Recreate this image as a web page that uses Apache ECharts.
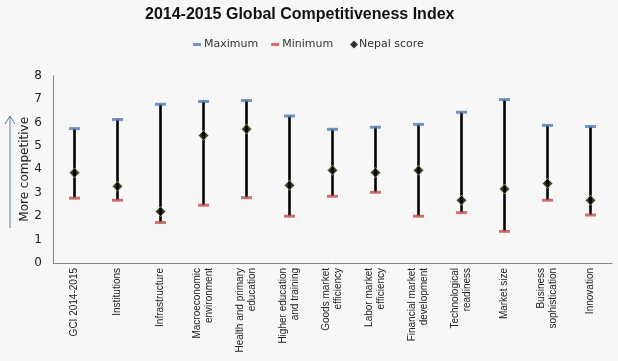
<!DOCTYPE html>
<html><head><meta charset="utf-8">
<script src="https://cdn.jsdelivr.net/npm/echarts@6/dist/echarts.min.js"></script>
<style>html,body{margin:0;padding:0;background:#f7f7f7}#c{width:618px;height:361px}</style>
</head><body><div id="c"></div>
<script>
const categories = ["GCI 2014-2015","Institutions","Infrastructure","Macroeconomic\nenvironment","Health and primary\neducation","Higher education\nand training","Goods market\nefficiency","Labor market\nefficiency","Financial market\ndevelopment","Technological\nreadiness","Market size","Business\nsophistication","Innovation"];
const maximum = [5.74,6.13,6.78,6.90,6.94,6.28,5.71,5.80,5.92,6.44,6.98,5.88,5.83];
const minimum = [2.77,2.68,1.73,2.47,2.79,2.00,2.85,3.02,2.00,2.15,1.35,2.68,2.05];
const nepal   = [3.85,3.28,2.20,5.45,5.72,3.32,3.96,3.86,3.96,2.68,3.16,3.40,2.68];
const yTicks = [0,1,2,3,4,5,6,7,8];

const legendText = {fontFamily:'DejaVu Sans',fontSize:11,color:'#333',padding:[0,0,0,-2]};
const chart = echarts.init(document.getElementById('c'));
chart.setOption({
  backgroundColor:'#f7f7f7',
  animation:false,
  title:{text:'2014-2015 Global Competitiveness Index',left:140,top:2,
    textStyle:{fontFamily:'Liberation Sans, Arial',fontSize:16,fontWeight:'bold',color:'#111'}},
  legend:[
    {top:34,left:188,itemGap:13,itemWidth:8,itemHeight:3,textStyle:legendText,
      data:[{name:'Maximum',icon:'rect'},{name:'Minimum',icon:'rect'}]},
    {top:34,left:345,itemWidth:8,itemHeight:8,textStyle:Object.assign({},legendText,{padding:[0,0,0,-4]}),
      data:[{name:'Nepal score',icon:'diamond',itemStyle:{borderWidth:0}}]}
  ],
  grid:{left:53,right:6,top:75.7,bottom:98,containLabel:false},
  xAxis:{type:'category',data:categories,boundaryGap:true,
    axisLine:{lineStyle:{color:'#888',width:1}},axisTick:{show:false},
    axisLabel:{rotate:90,interval:0,fontFamily:'Liberation Sans, Arial',fontSize:10,color:'#222',lineHeight:12,margin:5}},
  yAxis:{type:'value',min:0,max:8,interval:1,
    name:'More competitive',nameLocation:'middle',nameGap:22,nameRotate:90,nameMoveOverlap:false,
    nameTextStyle:{fontFamily:'DejaVu Sans',fontSize:12,color:'#222'},
    axisLine:{show:true,lineStyle:{color:'#888'}},axisTick:{show:false},splitLine:{show:false},
    axisLabel:{fontFamily:'DejaVu Sans',fontSize:12,color:'#222',margin:11,
      formatter:v=>yTicks.includes(v)?String(v):''}},
  graphic:[{type:'line',shape:{x1:10,y1:228,x2:10,y2:116},style:{stroke:'#5b7fa6',lineWidth:1}},
    {type:'polyline',shape:{points:[[5,124],[10,116],[15,124]]},style:{stroke:'#5b7fa6',lineWidth:1,fill:null}}],
  series:[
    {type:'custom',name:'range',silent:true,z:1,
      renderItem:(params,api)=>{
        const a=api.coord([api.value(0),api.value(1)]);
        const b=api.coord([api.value(0),api.value(2)]);
        return {type:'line',shape:{x1:a[0],y1:a[1],x2:b[0],y2:b[1]},style:{stroke:'#000',lineWidth:2.6}};
      },
      data:categories.map((c,i)=>[i,minimum[i],maximum[i]])},
    {type:'scatter',name:'Maximum',symbol:'rect',symbolSize:[11,3],itemStyle:{color:'#4f7cb0'},z:2,data:maximum},
    {type:'scatter',name:'Minimum',symbol:'rect',symbolSize:[11,3],itemStyle:{color:'#c0504d'},z:2,data:minimum},
    {type:'scatter',name:'Nepal score',symbol:'diamond',symbolSize:10,itemStyle:{color:'#000',borderColor:'#b8c070',borderWidth:1},z:3,data:nepal}
  ]
});
</script></body></html>
